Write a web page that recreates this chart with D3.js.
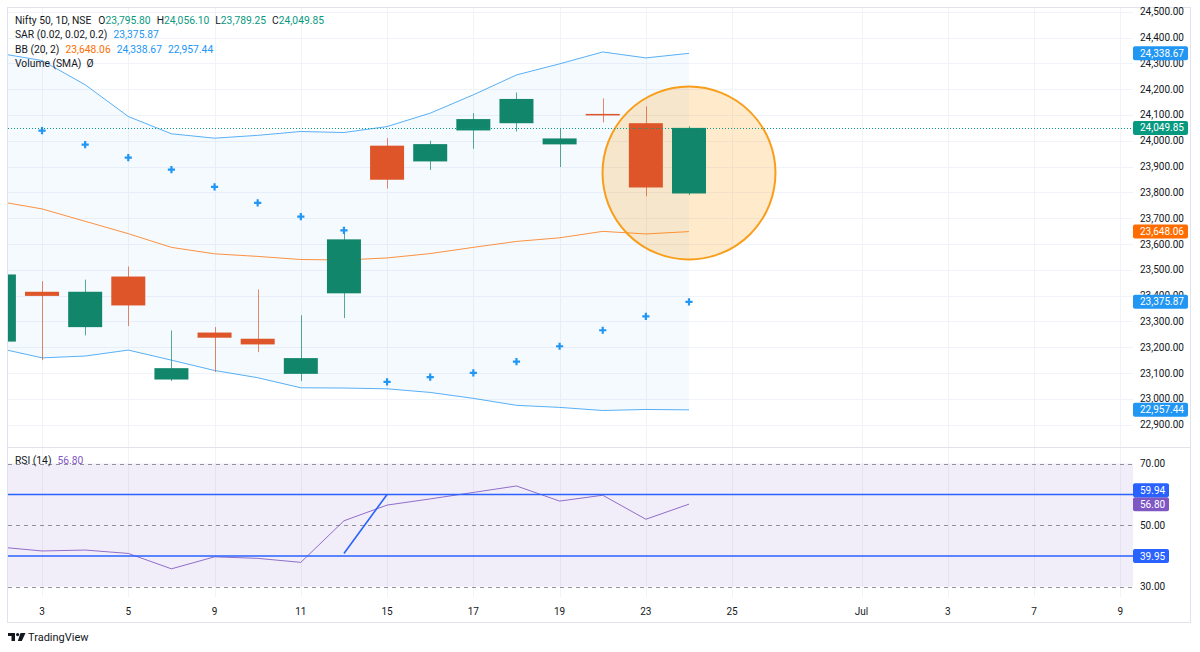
<!DOCTYPE html>
<html>
<head>
<meta charset="utf-8">
<title>Nifty 50, 1D, NSE</title>
<script src="https://cdn.jsdelivr.net/npm/d3@7"></script>
<style>
    body { margin: 0; background: #ffffff; }
    svg { display: block; font-family: Roboto, "Noto Sans", sans-serif; }
</style>
</head>
<body>
<div id="chart"></div>
<script>
// Daily candles, index 0 = partially visible bar at the left edge
const opens  = [23222, 23415, 23278, 23474, 23075, 23257, 23233, 23097, 23409, 23981, 23920, 24040, 24068, 23986, 24104, 24068, 23795.80];
const highs  = [23490, 23456, 23462, 23513, 23265, 23278, 23424, 23324, 23649, 24010, 24000, 24107, 24187, 24046, 24164, 24133, 24056.10];
const lows   = [23215, 23150, 23246, 23282, 23069, 23104, 23181, 23069, 23313, 23815, 23887, 23969, 24036, 23898, 24071, 23785, 23789.25];
const closes = [23482, 23399, 23415, 23362, 23119, 23237, 23211, 23158, 23618, 23849, 23987, 24084, 24162, 24009, 24099, 23819, 24049.85];

// Parabolic SAR (0.02, 0.02, 0.2)
const sarValues = [null, 24039, 23985, 23935, 23888, 23821, 23759, 23706, 23653, 23066, 23084, 23101, 23144, 23204, 23266, 23320, 23375.87];

// Bollinger Bands (20, 2)
const bbUpper  = [24339, 24311, 24217, 24094, 24027, 24010, 24021, 24036, 24032, 24055, 24107, 24178, 24255, 24298, 24344, 24321, 24338.67];
const bbMiddle = [23765, 23736, 23688, 23640, 23587, 23562, 23552, 23540, 23538, 23546, 23563, 23587, 23610, 23624, 23649, 23639, 23648.06];
const bbLower  = [23196, 23159, 23166, 23189, 23150, 23110, 23082, 23043, 23042, 23039, 23025, 23002, 22975, 22967, 22955, 22959, 22957.44];

// RSI (14)
const rsiValues = [42.9, 41.6, 41.9, 40.8, 35.8, 39.7, 39.2, 37.9, 51.4, 56.5, 58.5, 60.6, 62.7, 57.8, 59.7, 51.9, 56.80];
const rsiLevels = [70, 50, 30];
const rsiDrawnLevels = [59.94, 39.95];
const rsiTrendLine = [[8, 40.8], [9, 59.94]];

// Time axis
const tickIndex  = [1, 3, 5, 7, 9, 11, 13, 15, 17, 20, 22, 24, 26];
const tickLabels = ['3', '5', '9', '11', '15', '17', '19', '23', '25', 'Jul', '3', '7', '9'];
const priceTicks = [22900, 23000, 23100, 23200, 23300, 23400, 23500, 23600, 23700, 23800, 23900, 24000, 24100, 24200, 24300, 24400, 24500];

// Highlight circle drawn around the last two bars
const highlight = { index: 16, price: 23875, edgePrice: 24210 };

document.addEventListener('DOMContentLoaded', function() {
    drawChart();
});

function drawChart() {
    const width = 1200;
    const height = 652;
    const plotLeft = 8, plotRight = 1133, frameRight = 1191;
    const mainTop = 8, mainBottom = 447;
    const rsiTop = 448, rsiBottom = 597;
    const frameTop = 7, frameBottom = 622;

    const upColor = '#12866a';
    const downColor = '#dd5528';
    const blue = '#2196f3';
    const drawBlue = '#2962ff';
    const orange = '#ff6d00';
    const purple = '#7e57c2';
    const textColor = '#131722';
    const gridColor = '#f0f3fa';

    const svg = d3.select('#chart')
        .append('svg')
        .attr('width', width)
        .attr('height', height);

    svg.append('rect').attr('width', width).attr('height', height).attr('fill', '#fff');

    // Scales
    const x = d3.scaleLinear().domain([0, 26]).range([-1.1, 1120.3]);
    const y = d3.scaleLinear().domain([22900, 24500]).range([424.7, 11.7]);
    const yRsi = d3.scaleLinear().domain([30, 70]).range([586.7, 463.5]);
    const bodyWidth = 34;

    const defs = svg.append('defs');
    defs.append('clipPath').attr('id', 'clipMain')
        .append('rect').attr('x', plotLeft).attr('y', mainTop)
        .attr('width', plotRight - plotLeft).attr('height', mainBottom - mainTop);
    defs.append('clipPath').attr('id', 'clipRsi')
        .append('rect').attr('x', plotLeft).attr('y', rsiTop)
        .attr('width', plotRight - plotLeft).attr('height', rsiBottom - rsiTop);

    // Outer frame
    svg.append('rect')
        .attr('x', plotLeft - 0.5).attr('y', frameTop + 0.5)
        .attr('width', frameRight - plotLeft).attr('height', frameBottom - frameTop)
        .attr('fill', 'none').attr('stroke', '#e0e3eb');

    // Grid
    svg.append('g').selectAll('line')
        .data(priceTicks)
        .join('line')
        .attr('x1', plotLeft).attr('x2', plotRight)
        .attr('y1', d => Math.round(y(d)) + 0.5).attr('y2', d => Math.round(y(d)) + 0.5)
        .attr('stroke', gridColor);

    svg.append('g').selectAll('line')
        .data(tickIndex)
        .join('line')
        .attr('x1', d => Math.round(x(d)) + 0.5).attr('x2', d => Math.round(x(d)) + 0.5)
        .attr('y1', mainTop).attr('y2', rsiBottom)
        .attr('stroke', gridColor);

    const main = svg.append('g').attr('clip-path', 'url(#clipMain)');
    const idx = d3.range(closes.length);

    // Bollinger band fill and lines
    main.append('path')
        .datum(idx)
        .attr('fill', blue).attr('fill-opacity', 0.05)
        .attr('d', d3.area().x(i => x(i)).y0(i => y(bbLower[i])).y1(i => y(bbUpper[i])));

    const line = d3.line().x(i => x(i));
    [[bbUpper, blue], [bbLower, blue], [bbMiddle, orange]].forEach(([vals, color]) => {
        main.append('path')
            .datum(idx)
            .attr('fill', 'none')
            .attr('stroke', color)
            .attr('stroke-opacity', 0.75)
            .attr('stroke-width', 1)
            .attr('d', line.y(i => y(vals[i])));
    });

    // Highlight circle
    main.append('circle')
        .attr('cx', x(highlight.index))
        .attr('cy', y(highlight.price))
        .attr('r', y(highlight.price) - y(highlight.edgePrice))
        .attr('fill', '#ff9800').attr('fill-opacity', 0.2)
        .attr('stroke', '#f89e1a').attr('stroke-width', 2);

    // Candles
    const candles = main.append('g').selectAll('g')
        .data(idx)
        .join('g');

    candles.append('line')
        .attr('x1', i => Math.round(x(i)) + 0.5).attr('x2', i => Math.round(x(i)) + 0.5)
        .attr('y1', i => y(highs[i])).attr('y2', i => y(lows[i]))
        .attr('stroke', i => closes[i] >= opens[i] ? upColor : downColor)
        .attr('stroke-opacity', 0.7)
        .attr('stroke-width', 1);

    candles.append('rect')
        .attr('x', i => x(i) - bodyWidth / 2)
        .attr('width', bodyWidth)
        .attr('y', i => y(Math.max(opens[i], closes[i])))
        .attr('height', i => Math.max(1.5, Math.abs(y(opens[i]) - y(closes[i]))))
        .attr('fill', i => closes[i] >= opens[i] ? upColor : downColor);

    // SAR crosses
    main.append('g').selectAll('path')
        .data(idx.filter(i => sarValues[i] !== null))
        .join('path')
        .attr('transform', i => `translate(${x(i)},${y(sarValues[i])})`)
        .attr('d', 'M-3.6,0H3.6M0,-3.6V3.6')
        .attr('stroke', blue)
        .attr('stroke-width', 2.2);

    // Last close dotted line
    const lastClose = closes[closes.length - 1];
    main.append('line')
        .attr('x1', plotLeft).attr('x2', plotRight)
        .attr('y1', Math.round(y(lastClose)) + 0.5).attr('y2', Math.round(y(lastClose)) + 0.5)
        .attr('stroke', '#089981')
        .attr('stroke-dasharray', '1,2');

    // Legend
    const fmt = d3.format(',.2f');
    const legend = svg.append('g').attr('font-size', '10.3px').attr('fill', textColor);
    const last = closes.length - 1;

    const l1 = legend.append('text').attr('x', 15).attr('y', 23.5);
    l1.append('tspan').text('Nifty 50, 1D, NSE');
    [['O', opens[last]], ['H', highs[last]], ['L', lows[last]], ['C', closes[last]]].forEach(([k, v], j) => {
        l1.append('tspan').attr('dx', j === 0 ? 7 : 6).text(k);
        l1.append('tspan').attr('fill', '#089981').text(fmt(v));
    });

    const l2 = legend.append('text').attr('x', 15).attr('y', 38);
    l2.append('tspan').text('SAR (0.02, 0.02, 0.2)');
    l2.append('tspan').attr('dx', 6).attr('fill', blue).text(fmt(sarValues[last]));

    const l3 = legend.append('text').attr('x', 15).attr('y', 52.5);
    l3.append('tspan').text('BB (20, 2)');
    l3.append('tspan').attr('dx', 6).attr('fill', orange).text(fmt(bbMiddle[last]));
    l3.append('tspan').attr('dx', 6).attr('fill', blue).text(fmt(bbUpper[last]));
    l3.append('tspan').attr('dx', 6).attr('fill', blue).text(fmt(bbLower[last]));

    const l4 = legend.append('text').attr('x', 15).attr('y', 66.5);
    l4.append('tspan').text('Volume (SMA)');
    l4.append('tspan').attr('dx', 5).text('\u00d8');

    // Price axis
    svg.append('g').selectAll('text')
        .data(priceTicks)
        .join('text')
        .attr('x', 1140)
        .attr('y', d => y(d))
        .attr('dy', '0.35em')
        .attr('font-size', '10px')
        .attr('fill', textColor)
        .text(d => fmt(d));

    function axisBadges(items, w) {
        // push overlapping badges apart, upper one moves up
        const sorted = items.slice().sort((a, b) => b.y - a.y);
        for (let k = 1; k < sorted.length; k++) {
            if (sorted[k - 1].y - sorted[k].y < 14) sorted[k].y = sorted[k - 1].y - 14;
        }
        const g = svg.append('g').selectAll('g')
            .data(sorted)
            .join('g')
            .attr('transform', d => `translate(${plotRight},${d.y})`);
        g.append('rect')
            .attr('x', 0).attr('y', -7)
            .attr('width', w).attr('height', 14)
            .attr('rx', 2)
            .attr('fill', d => d.color);
        g.append('text')
            .attr('x', 7).attr('dy', '0.35em')
            .attr('font-size', '10px')
            .attr('fill', '#fff')
            .text(d => d.label);
    }

    axisBadges([
        { y: y(bbUpper[last]), color: blue, label: fmt(bbUpper[last]) },
        { y: y(closes[last]), color: '#089981', label: fmt(closes[last]) },
        { y: y(bbMiddle[last]), color: orange, label: fmt(bbMiddle[last]) },
        { y: y(sarValues[last]), color: blue, label: fmt(sarValues[last]) },
        { y: y(bbLower[last]), color: blue, label: fmt(bbLower[last]) }
    ], 55);

    // Pane separator
    svg.append('line')
        .attr('x1', plotLeft).attr('x2', frameRight)
        .attr('y1', mainBottom + 0.5).attr('y2', mainBottom + 0.5)
        .attr('stroke', '#e0e3eb');

    // RSI pane
    const rsi = svg.append('g').attr('clip-path', 'url(#clipRsi)');

    rsi.append('rect')
        .attr('x', plotLeft).attr('width', plotRight - plotLeft)
        .attr('y', yRsi(70)).attr('height', yRsi(30) - yRsi(70))
        .attr('fill', purple).attr('fill-opacity', 0.1);

    rsi.append('g').selectAll('line')
        .data(rsiLevels)
        .join('line')
        .attr('x1', plotLeft).attr('x2', plotRight)
        .attr('y1', d => Math.round(yRsi(d)) + 0.5).attr('y2', d => Math.round(yRsi(d)) + 0.5)
        .attr('stroke', '#787b86').attr('stroke-opacity', 0.8)
        .attr('stroke-dasharray', '4,4');

    rsi.append('path')
        .datum(idx)
        .attr('fill', 'none')
        .attr('stroke', purple).attr('stroke-opacity', 0.85)
        .attr('stroke-width', 1)
        .attr('d', d3.line().x(i => x(i)).y(i => yRsi(rsiValues[i])));

    rsi.append('g').selectAll('line')
        .data(rsiDrawnLevels)
        .join('line')
        .attr('x1', plotLeft).attr('x2', plotRight)
        .attr('y1', d => yRsi(d)).attr('y2', d => yRsi(d))
        .attr('stroke', drawBlue).attr('stroke-width', 1.6);

    rsi.append('line')
        .attr('x1', x(rsiTrendLine[0][0])).attr('y1', yRsi(rsiTrendLine[0][1]))
        .attr('x2', x(rsiTrendLine[1][0])).attr('y2', yRsi(rsiTrendLine[1][1]))
        .attr('stroke', drawBlue).attr('stroke-width', 1.6);

    const rsiLabel = svg.append('text').attr('x', 15).attr('y', 463.5)
        .attr('font-size', '10.3px').attr('fill', textColor);
    rsiLabel.append('tspan').text('RSI (14)');
    rsiLabel.append('tspan').attr('dx', 6).attr('fill', purple).text(rsiValues[last].toFixed(2));

    svg.append('g').selectAll('text')
        .data(rsiLevels)
        .join('text')
        .attr('x', 1140)
        .attr('y', d => yRsi(d))
        .attr('dy', '0.35em')
        .attr('font-size', '10px')
        .attr('fill', textColor)
        .text(d => d.toFixed(2));

    axisBadges([
        { y: yRsi(rsiDrawnLevels[0]), color: drawBlue, label: rsiDrawnLevels[0].toFixed(2) },
        { y: yRsi(rsiValues[last]), color: purple, label: rsiValues[last].toFixed(2) },
        { y: yRsi(rsiDrawnLevels[1]), color: drawBlue, label: rsiDrawnLevels[1].toFixed(2) }
    ], 36);

    // Time axis
    svg.append('g').selectAll('text')
        .data(tickIndex)
        .join('text')
        .attr('x', d => x(d))
        .attr('y', 611.5)
        .attr('dy', '0.35em')
        .attr('text-anchor', 'middle')
        .attr('font-size', '10px')
        .attr('fill', textColor)
        .text((d, j) => tickLabels[j]);

    // TradingView mark
    const logo = svg.append('g').attr('fill', textColor);
    logo.append('path').attr('d', 'M8,633H15V641H11.5V636H8Z');
    logo.append('circle').attr('cx', 17.6).attr('cy', 634.6).attr('r', 1.6);
    logo.append('path').attr('d', 'M20.5,633H25.5L21.8,641H17.8Z');
    svg.append('text')
        .attr('x', 28).attr('y', 641)
        .attr('font-size', '11px')
        .attr('fill', textColor)
        .text('TradingView');
}
</script>
</body>
</html>
